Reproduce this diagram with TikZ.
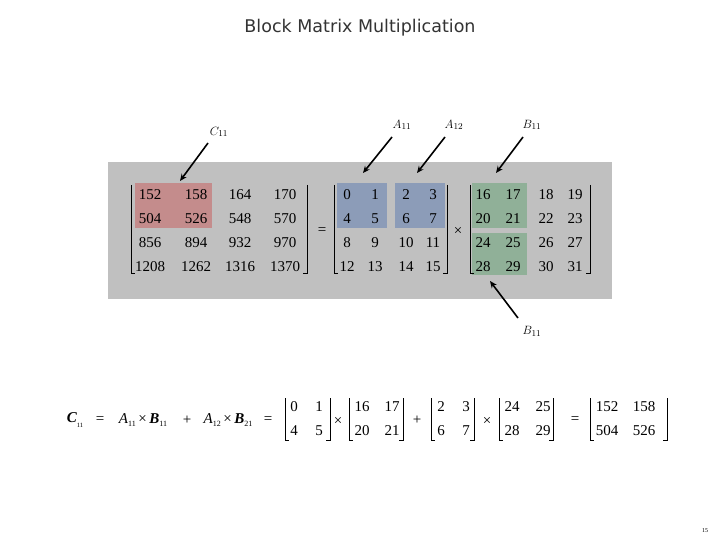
\documentclass[tikz,border=0pt]{standalone}
\usepackage{fontspec}
\setmainfont{Liberation Serif}
\newfontfamily\titlefont{DejaVu Sans}
\usetikzlibrary{arrows.meta}
\definecolor{panel}{HTML}{C0C0C0}
\definecolor{cred}{HTML}{C48C8C}
\definecolor{ablue}{HTML}{8C9CB8}
\definecolor{bgreen}{HTML}{90B098}
\newcommand{\lsub}[1]{\raisebox{-0.45ex}{\fontsize{8}{8}\selectfont #1}}
\begin{document}
\begin{tikzpicture}[x=1pt,y=-1pt,
  num/.style={font=\fontsize{15}{15}\selectfont, inner sep=0pt},
  eq/.style={font=\fontsize{15}{15}\selectfont, inner sep=0pt},
  lbl/.style={font=\fontsize{13}{13}\selectfont, inner sep=0pt},
  brk/.style={line width=0.8pt},
  arr/.style={line width=1.6pt, -{Stealth[length=7pt,width=6pt]}}]
\useasboundingbox[fill=white] (0,0) rectangle (720,540);
% title
\node[font=\titlefont\fontsize{17.5}{18}\selectfont, text=black!80, inner sep=0pt] (title) at (360,28) {Block Matrix Multiplication};
% panel
\fill[panel] (108,162) rectangle (612,299);
\fill[cred] (135,183) rectangle (212,228);
\fill[ablue] (337,183) rectangle (387,228);
\fill[ablue] (395,183) rectangle (445,228);
\fill[bgreen] (472,183) rectangle (527,228);
\fill[bgreen] (472,233) rectangle (527,275);
% matrix C
\foreach \y/\i/\a/\b/\c/\d in {195/1/152/158/164/170, 219/2/504/526/548/570, 243/3/856/894/932/970, 267/4/1208/1262/1316/1370} {
  \node[num] (c\i a) at (150,\y) {\a};
  \node[num] (c\i b) at (196,\y) {\b};
  \node[num] (c\i c) at (240,\y) {\c};
  \node[num] (c\i d) at (285,\y) {\d};
}
\draw[brk] (131,185) -- (131,273) -- (135,273);
\draw[brk] (307,185) -- (307,273) -- (303,273);
\node[num] (eq1) at (322,231) {=};
% matrix A
\foreach \y/\i/\a/\b/\c/\d in {195/1/0/1/2/3, 219/2/4/5/6/7, 243/3/8/9/10/11, 267/4/12/13/14/15} {
  \node[num] (a\i a) at (347,\y) {\a};
  \node[num] (a\i b) at (375,\y) {\b};
  \node[num] (a\i c) at (406,\y) {\c};
  \node[num] (a\i d) at (433,\y) {\d};
}
\draw[brk] (334,185) -- (334,273) -- (338,273);
\draw[brk] (447,185) -- (447,273) -- (443,273);
\node[num] (times1) at (458,231) {×};
% matrix B
\foreach \y/\i/\a/\b/\c/\d in {195/1/16/17/18/19, 219/2/20/21/22/23, 243/3/24/25/26/27, 267/4/28/29/30/31} {
  \node[num] (b\i a) at (483,\y) {\a};
  \node[num] (b\i b) at (513,\y) {\b};
  \node[num] (b\i c) at (546,\y) {\c};
  \node[num] (b\i d) at (575,\y) {\d};
}
\draw[brk] (470,185) -- (470,273) -- (474,273);
\draw[brk] (590,185) -- (590,273) -- (586,273);
% labels and arrows
\node[lbl] (lc) at (219,132) {$C_{11}$};
\node[lbl] (la1) at (402,125) {$A_{11}$};
\node[lbl] (la2) at (454,125) {$A_{12}$};
\node[lbl] (lb1) at (532,125) {$B_{11}$};
\node[lbl] (lb2) at (532,331) {$B_{11}$};
\coordinate (sc) at (208,143); \coordinate (tc) at (180,181);
\coordinate (sa1) at (392,137); \coordinate (ta1) at (363,173);
\coordinate (sa2) at (445,137); \coordinate (ta2) at (417,173);
\coordinate (sb1) at (523,137); \coordinate (tb1) at (496,173);
\coordinate (sb2) at (518,318); \coordinate (tb2) at (490,281);
\draw[arr] (sc) -- (tc);
\draw[arr] (sa1) -- (ta1);
\draw[arr] (sa2) -- (ta2);
\draw[arr] (sb1) -- (tb1);
\draw[arr] (sb2) -- (tb2);
% bottom equation
\node[eq] (ec) at (75,420) {\textbf{\textit{C}}\raisebox{-0.7ex}{\fontsize{6.5}{7}\selectfont 11}};
\node[eq] (ee1) at (100,420) {=};
\node[eq] (ep1) at (143,420) {\textit{A}\lsub{11}\,×\,\textbf{\textit{B}}\lsub{11}};
\node[eq] (eplus) at (187,420) {+};
\node[eq] (ep2) at (228,420) {\textit{A}\lsub{12}\,×\,\textbf{\textit{B}}\lsub{21}};
\node[eq] (ee2) at (268,420) {=};
% small matrices
\foreach \n/\xl/\xr/\xa/\xb/\a/\b/\c/\d in {m1/285/330/294/319/0/1/4/5, m2/349/403/362/392/16/17/20/21, m3/431/474/441/466/2/3/6/7, m4/499/553/512/543/24/25/28/29, m5/590/667/607/644/152/158/504/526} {
  \node[num] (\n aa) at (\xa,407) {\a};
  \node[num] (\n ab) at (\xb,407) {\b};
  \node[num] (\n ba) at (\xa,431) {\c};
  \node[num] (\n bb) at (\xb,431) {\d};
  \draw[brk] (\xl,398) -- (\xl,440) -- (\xl+4,440);
  \draw[brk] (\xr,398) -- (\xr,440) -- (\xr-4,440);
}
\node[eq] (et1) at (338,421) {×};
\node[eq] (eplus2) at (417,420) {+};
\node[eq] (et2) at (487,421) {×};
\node[eq] (ee3) at (575,420) {=};
% page number
\node[font=\fontsize{6}{6}\selectfont, inner sep=0pt] (page) at (705,531) {15};
\end{tikzpicture}
\end{document}
